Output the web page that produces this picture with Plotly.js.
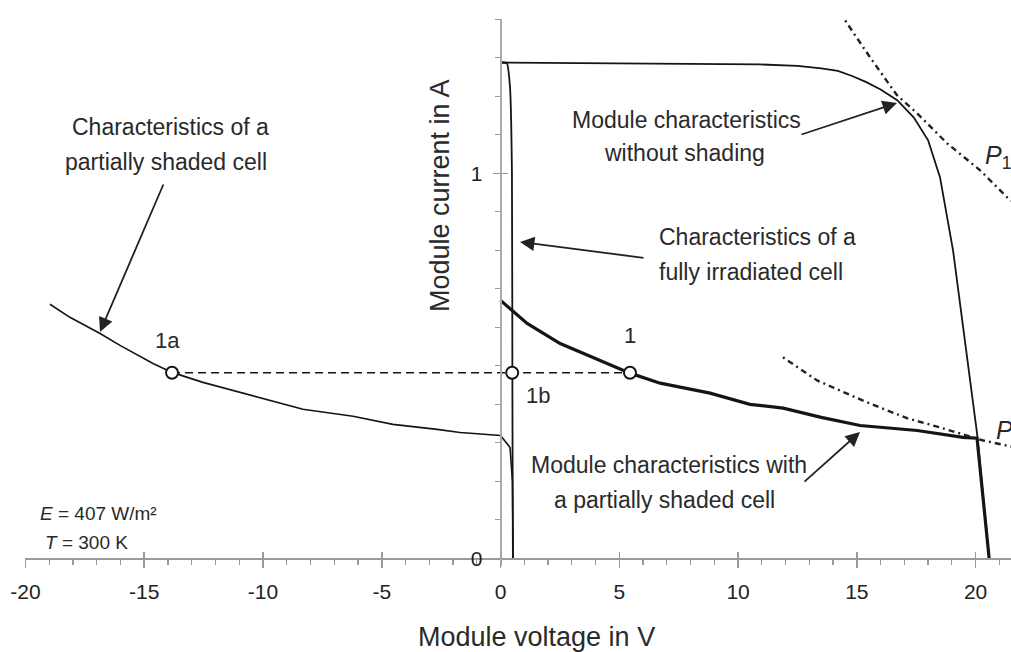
<!DOCTYPE html>
<html>
<head>
<meta charset="utf-8">
<script src="https://cdn.plot.ly/plotly-3.0.1.min.js"></script>
<style>html,body{margin:0;padding:0;background:#fff;}#chart{width:1011px;height:652px;}</style>
</head>
<body>
<div id="chart"></div>
<script>
// ---- data ----
const unshadedV = [0, 6.7, 10.9, 12.5, 13.5, 14.2, 14.8, 15.4, 16.0, 16.7, 17.4, 18.0, 18.5, 19.05, 19.6, 20.06, 20.57];
const unshadedI = [1.288, 1.286, 1.283, 1.279, 1.273, 1.266, 1.253, 1.237, 1.218, 1.190, 1.145, 1.086, 0.99, 0.80, 0.54, 0.325, 0];

const fullCellV = [0, 0.27, 0.40, 0.48, 0.50, 0.52];
const fullCellI = [1.288, 1.286, 1.223, 1.0, 0.41, 0];

const shadedCellV = [-18.97, -18.13, -16.86, -16.02, -14.63, -13.83, -12.53, -10.42, -8.32, -6.21, -4.53, -2.67, -1.7, 0.0, 0.40, 0.50, 0.53];
const shadedCellI = [0.660, 0.626, 0.584, 0.553, 0.506, 0.483, 0.457, 0.421, 0.387, 0.369, 0.348, 0.335, 0.327, 0.319, 0.288, 0.20, 0];

const shadedModuleV = [0, 1.12, 2.51, 3.89, 5.45, 6.72, 8.82, 10.5, 11.9, 13.5, 15.14, 17.54, 19.47, 20.06, 20.57];
const shadedModuleI = [0.670, 0.610, 0.558, 0.522, 0.481, 0.455, 0.429, 0.400, 0.390, 0.366, 0.345, 0.332, 0.314, 0.312, 0];

const p1V = [14.51, 15.56, 16.69, 17.54, 18.8, 20.19, 21.37, 21.6];
const p1I = [1.397, 1.301, 1.203, 1.156, 1.078, 1.008, 0.935, 0.925];

const p2V = [11.89, 13.33, 15.43, 17.11, 18.5, 20.32, 21.45, 21.6];
const p2I = [0.522, 0.462, 0.405, 0.364, 0.340, 0.306, 0.291, 0.289];

const opPointV = [-13.83, 0.49, 5.45];
const opPointI = [0.482, 0.482, 0.482];
const opLineV = [-13.83, 5.45];
const opLineI = [0.482, 0.482];

const xTickVals = [-20, -15, -10, -5, 0, 5, 10, 15, 20];
const xTickText = ['-20', '-15', '-10', '-5', '0', '5', '10', '15', '20'];
const yTickVals = [0, 1];
const yTickText = ['0', '1'];

// ---- layout helpers ----
const FONT = 'Liberation Sans, Arial, Helvetica, sans-serif';
const L = 25, T = 19, W = 986, H = 547;
const xRange = [-20.02, 21.49];
const yRange = [-0.02, 1.401];
const px = p => (p - L) / W;
const py = p => 1 - (p - T) / H;
const yAxisPos = (0 - xRange[0]) / (xRange[1] - xRange[0]);
const xAxisPos = (0 - yRange[0]) / (yRange[1] - yRange[0]);

const black = '#151515';
const traces = [
  {x: unshadedV, y: unshadedI, mode: 'lines', line: {color: black, width: 1.8}},
  {x: fullCellV, y: fullCellI, mode: 'lines', line: {color: black, width: 1.8, shape: 'spline', smoothing: 0.4}},
  {x: shadedCellV, y: shadedCellI, mode: 'lines', line: {color: black, width: 1.6}},
  {x: shadedModuleV, y: shadedModuleI, mode: 'lines', line: {color: black, width: 3.2}},
  {x: p1V, y: p1I, mode: 'lines', line: {color: '#222', width: 2.4, dash: '2px,4px,6px,4px'}},
  {x: p2V, y: p2I, mode: 'lines', line: {color: '#222', width: 2.4, dash: '2px,4px,6px,4px'}},
  {x: opLineV, y: opLineI, mode: 'lines', line: {color: black, width: 1.7, dash: '8px,5px'}},
  {x: opPointV, y: opPointI, mode: 'markers', marker: {size: 12, color: '#fff', line: {color: black, width: 2}}},
  {x: [], y: [], xaxis: 'x2', yaxis: 'y', mode: 'lines'},
  {x: [], y: [], xaxis: 'x', yaxis: 'y2', mode: 'lines'}
];

function txt(text, cx, cy, size, opts) {
  return Object.assign({xref: 'paper', yref: 'paper', x: px(cx), y: py(cy), text: text,
    showarrow: false, xanchor: 'center', yanchor: 'middle',
    font: {family: FONT, size: size, color: '#2a2a2a'}}, opts || {});
}
function arrow(hx, hy, tx, ty) {
  return {xref: 'paper', yref: 'paper', x: px(hx), y: py(hy), ax: tx - hx, ay: ty - hy,
    text: '', showarrow: true, arrowhead: 2, arrowsize: 1.6, arrowwidth: 1.8, arrowcolor: '#222', standoff: 0};
}

const annotations = [
  txt('Characteristics of a', 170, 127, 23),
  txt('partially shaded cell', 166, 162, 23),
  arrow(100, 332, 164, 183),
  txt('Module characteristics', 686, 120, 23),
  txt('without shading', 684, 153, 23),
  arrow(897, 103, 800, 135),
  txt('Characteristics of a', 657, 237, 23, {xanchor: 'left'}),
  txt('fully irradiated cell', 657, 272, 23, {xanchor: 'left'}),
  arrow(520, 242, 645, 258),
  txt('Module characteristics with', 669, 465, 23),
  txt('a partially shaded cell', 664, 500, 23),
  arrow(860, 432, 803, 483),
  txt('1a', 167, 340, 22),
  txt('1', 630, 335, 22),
  txt('1b', 538, 395, 22),
  txt('<i>P</i><sub>1</sub>', 983, 157, 25, {xanchor: 'left'}),
  txt('<i>P</i><sub>2</sub>', 994, 432, 25, {xanchor: 'left'}),
  txt('<i>E</i> = 407 W/m²', 38, 513, 19, {xanchor: 'left'}),
  txt('<i>T</i> = 300 K', 43, 542, 19, {xanchor: 'left'}),
  txt('Module voltage in V', 536, 637, 27),
  txt('Module current in A', 440, 196, 27, {textangle: -90})
];

const axisGray = '#9a9a9a';
const layout = {
  width: 1011, height: 652,
  margin: {l: L, r: 0, t: T, b: 652 - T - H},
  paper_bgcolor: '#fff', plot_bgcolor: '#fff',
  showlegend: false,
  font: {family: FONT, color: '#222'},
  xaxis: {
    range: xRange, anchor: 'free', position: xAxisPos,
    showline: true, linecolor: axisGray, linewidth: 1.5,
    showgrid: false, zeroline: false,
    tickmode: 'array', tickvals: xTickVals, ticktext: xTickText,
    ticks: 'outside', ticklen: 8, tickwidth: 1.5, tickcolor: axisGray,
    minor: {tickmode: 'linear', tick0: 0, dtick: 1, ticks: 'outside', ticklen: 5, tickwidth: 1.2, tickcolor: axisGray, showgrid: false},
    tickfont: {family: FONT, size: 21, color: '#222'},
    ticklabelstandoff: 6
  },
  xaxis2: {
    range: xRange, overlaying: 'x', anchor: 'free', position: xAxisPos,
    showline: false, showgrid: false, zeroline: false, showticklabels: false,
    tickmode: 'array', tickvals: xTickVals,
    ticks: 'inside', ticklen: 6, tickwidth: 1.5, tickcolor: axisGray
  },
  yaxis: {
    range: yRange, anchor: 'free', position: yAxisPos,
    showline: true, linecolor: '#aaa', linewidth: 2,
    showgrid: false, zeroline: false,
    tickmode: 'array', tickvals: yTickVals, ticktext: yTickText,
    ticks: 'outside', ticklen: 7, tickwidth: 1.5, tickcolor: axisGray,
    minor: {tickmode: 'linear', tick0: 0, dtick: 0.1, ticks: 'outside', ticklen: 5, tickwidth: 1.2, tickcolor: axisGray, showgrid: false},
    tickfont: {family: FONT, size: 21, color: '#222'},
    ticklabelstandoff: 6
  },
  yaxis2: {
    range: yRange, overlaying: 'y', anchor: 'free', position: yAxisPos,
    showline: false, showgrid: false, zeroline: false, showticklabels: false,
    tickmode: 'array', tickvals: yTickVals,
    ticks: 'inside', ticklen: 6, tickwidth: 1.5, tickcolor: axisGray
  },
  annotations: annotations
};

traces.forEach(t => { t.hoverinfo = 'skip'; t.showlegend = false; t.cliponaxis = true; });
Plotly.newPlot('chart', traces, layout, {staticPlot: true, displayModeBar: false});
</script>
</body>
</html>
